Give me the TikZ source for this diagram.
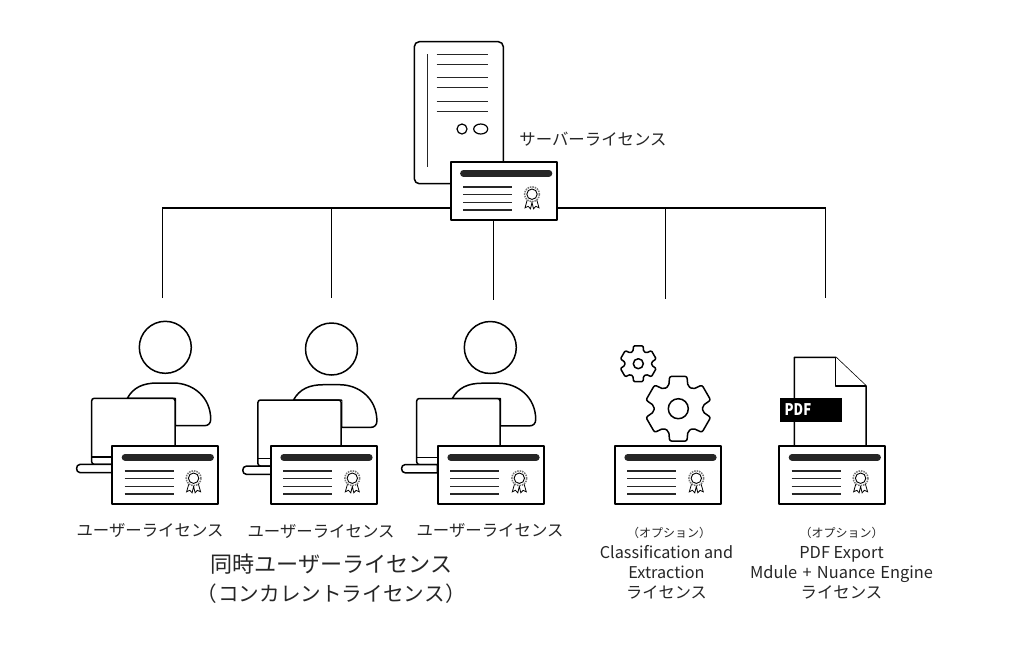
\documentclass[tikz,border=0pt]{standalone}
\usepackage{fontspec}
\usepackage{graphicx}
\setmainfont{Noto Sans CJK JP}
\usetikzlibrary{calc}
\newcommand{\gearoutline}[3]{% centre, outer radius, hole radius
  \draw[ink,rounded corners=#2*0.06pt] ($(#1)+(75:#2)$)
    \foreach \a in {0,60,...,240} {
      -- ($(#1)+(\a+105:#2)$)
      -- ($(#1)+(\a+113:#2*0.73)$) -- ($(#1)+(\a+127:#2*0.73)$) -- ($(#1)+(\a+135:#2)$)
    } -- ($(#1)+(405:#2)$) -- ($(#1)+(413:#2*0.73)$) -- ($(#1)+(427:#2*0.73)$) -- cycle;
  \draw[ink] (#1) circle (#3);
}
\tikzset{
  x=1pt,y=-1pt,
  ink/.style={line width=1.5pt,draw=black,fill=white,line join=round},
  thin ink/.style={line width=1.2pt,draw=black},
  rule/.style={line width=1.4pt,draw=black!85},
  link/.style={line width=1.5pt,draw=black},
  label/.style={inner sep=0pt,text=black!85,align=center,font=\fontsize{16.4}{20}\selectfont},
  pics/certificate/.style={code={
    \draw[ink,line width=1.8pt] (0,0) rectangle (106,58);
    \draw[line width=6.8pt,line cap=round,draw=black!85] (12.8,11) -- (98.2,11);
    \foreach \y in {24.7,32.3,40,47.7} \draw[rule] (12.3,\y) -- (61.3,\y);
    % seal with two ribbons
    \draw[line width=0.8pt,draw=black,fill=white]
      (77,36) -- (74.3,45.5) -- (77.5,44) -- (79.8,46.5) -- (81.8,38)
      (85.6,36) -- (88.3,45.5) -- (85.1,44) -- (82.8,46.5) -- (80.8,38);
    \draw[line width=1.5pt,draw=black!55,densely dotted,fill=white] (81.3,31.9) circle (7.4);
    \draw[line width=0.9pt,draw=black,fill=white] (81.3,31.9) circle (5.2);
  }},
  pics/user/.style={code={
    \draw[ink] (0,0) circle (26);
    % shoulders behind the laptop
    \draw[ink] (-38,51) .. controls (-32,40) and (-22,35.7) .. (-8,35.7)
      -- (8,35.7) .. controls (28,35.7) and (45.4,50) .. (45.4,72)
      .. controls (45.4,76) and (43,78.4) .. (39,78.4) -- (10,78.4) -- (10,51) -- cycle;
    \draw[draw=none,fill=white] (-38,52) rectangle (10,79);
    \draw[ink,fill=white,rounded corners=2.5pt] (-73.6,117) -- (-73.6,51) -- (9.7,51) -- (9.7,117) -- cycle;
    \draw[thin ink] (-73.6,109.7) -- (-53,109.7);
    \draw[ink,fill=white] (-53,117) -- (-85,117)
      .. controls (-90,117) and (-90,125.4) .. (-85,125.4) -- (-53,125.4) -- cycle;
  }}
}
\begin{document}
\begin{tikzpicture}
\useasboundingbox (0,0) rectangle (1024,649);
\fill[white] (0,0) rectangle (1024,649);

% wiring from the server licence to each client
\coordinate (busL) at (162.5,207.8);
\coordinate (busR) at (825.5,207.8);
\coordinate (j1) at (331.5,207.8);
\coordinate (j2) at (493.5,207.8);
\coordinate (j3) at (665.5,207.8);
\coordinate (d1) at (331.5,298);
\coordinate (d2) at (493.5,300);
\coordinate (d3) at (665.5,299);
\coordinate (dL) at (162.5,298);
\coordinate (dR) at (825.5,298);
\draw[link] (dL) -- (busL) -- (busR) -- (dR);
\draw[link] (j1) -- (d1);
\draw[link] (j2) -- (d2);
\draw[link] (j3) -- (d3);

% server tower
\draw[ink,rounded corners=5pt] (414.3,41.7) rectangle (503.3,183.7);
\draw[rule] (427.3,54) -- (427.3,167.3);
\foreach \y in {54.3,64.3,77.7,87.7,101.2,111.2} \draw[rule] (436.7,\y) -- (487.7,\y);
\draw[thin ink] (462,129) circle (5);
\draw[thin ink] (480.7,129) ellipse (7 and 5);
\pic at (450.7,162.3) {certificate};
\node[label] (serverlabel) at (593,139) {サーバーライセンス};

% concurrent users
\pic at (165.3,347.3) {user};
\pic at (112.3,446.3) {certificate};
\pic at (331.5,349) {user};
\pic at (271,446.3) {certificate};
\pic at (490.3,347.5) {user};
\pic at (438,446.3) {certificate};
\node[label] (user1) at (150,531) {ユーザーライセンス};
\node[label] (user2) at (321,532) {ユーザーライセンス};
\node[label] (user3) at (490,531) {ユーザーライセンス};
\node[label,font=\fontsize{22.1}{29}\selectfont] (concurrent) at (331.5,579) {同時ユーザーライセンス\\{\fontsize{20.6}{29}\selectfont （\hspace{1pt}コンカレントライセンス\hspace{1pt}）}};

% classification and extraction option
\gearoutline{638.3,363.7}{18.5}{5}
\gearoutline{678.3,408.7}{33.5}{10}
\pic at (615,446.3) {certificate};
\node[label,font=\fontsize{16.2}{20}\selectfont] (option1) at (666.5,563) {{\hspace{5pt}\fontsize{12}{15}\selectfont （オプション）}\\[1pt]Classification and\\Extraction\\ライセンス};

% PDF export option
\draw[ink] (794.3,447) -- (794.3,357.3) -- (835.7,357.3) -- (866,386) -- (866,447);
\draw[ink] (835.7,357.3) -- (835.7,386) -- (866,386);
\node[fill=black,text=white,anchor=north west,minimum width=62.7pt,minimum height=23.7pt,inner sep=0pt] (pdfbadge) at (779.3,398) {};
\node[anchor=west,text=white,inner sep=0pt,font=\fontsize{16}{16}\selectfont\bfseries] (pdftext) at (784.5,409.5) {\scalebox{.82}[1]{PDF}};
\pic at (779.3,446.3) {certificate};
\node[label,font=\fontsize{16.4}{20}\selectfont] (option2) at (841.5,563) {{\fontsize{12}{15}\selectfont （オプション）}\\[1pt]PDF Export\\{\spaceskip=5.3pt Mdule + Nuance Engine}\\ライセンス};
\end{tikzpicture}
\end{document}
